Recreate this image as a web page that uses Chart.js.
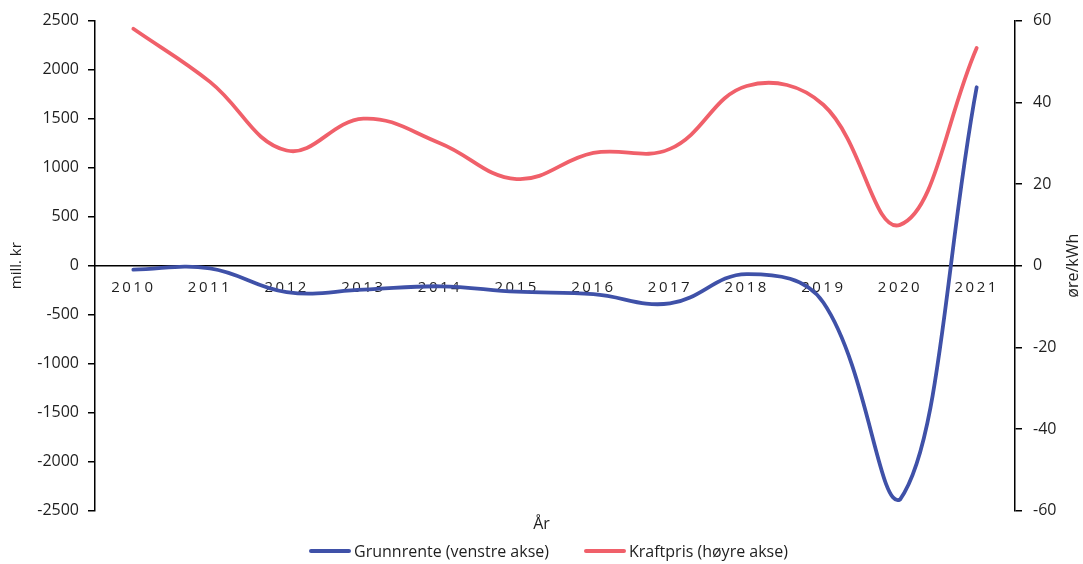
<!DOCTYPE html>
<html>
<head>
<meta charset="utf-8">
<script src="https://cdn.jsdelivr.net/npm/chart.js@4.4.1/dist/chart.umd.min.js"></script>
<style>
  html, body { margin: 0; padding: 0; background: #ffffff; }
  #wrap { width: 1083px; height: 564px; position: relative; }
  #legend {
    position: absolute; left: 14px; right: 0; top: 541px;
    display: flex; justify-content: center; align-items: center; gap: 35px;
    font-family: 'Open Sans', 'DejaVu Sans', sans-serif; font-size: 16px; color: #1e1e1e;
    line-height: 20px;
  }
  #legend .item { display: flex; align-items: center; }
  #legend .swatch { width: 42px; height: 3.5px; border-radius: 2px; margin-right: 3px; }
</style>
</head>
<body>
<div id="wrap"><canvas id="c"></canvas><div id="legend"></div></div>
<script>
// Years on the category axis
const years = ['2010', '2011', '2012', '2013', '2014', '2015', '2016', '2017', '2018', '2019', '2020', '2021'];
// Grunnrente, mill. kr (left axis)
const grunnrente = [-40, -27, -270, -245, -210, -265, -290, -385, -85, -375, -2385, 1820];
// Kraftpris, øre/kWh (right axis)
const kraftpris = [58.0, 45.0, 28.2, 36.0, 30.0, 21.2, 27.6, 28.6, 44.0, 39.4, 10.0, 53.3];
// Axis tick values
const leftTicks = [-2500, -2000, -1500, -1000, -500, 0, 500, 1000, 1500, 2000, 2500];
const rightTicks = [-60, -40, -20, 0, 20, 40, 60];

const BLUE = '#3F51A8';
const RED = '#F0606A';
const TEXT = '#1e1e1e';
const FONT = "'Open Sans', 'DejaVu Sans', sans-serif";

// Spaced-out year labels and the upward-reading right axis title
const extras = {
  id: 'extras',
  afterLayout(chart) {
    const xs = chart.scales.x;
    if (!xs._spaced) {
      const orig = xs.drawLabels;
      xs.drawLabels = function (area) {
        const ctx = this.ctx;
        ctx.save();
        ctx.letterSpacing = '2.5px';
        orig.call(this, area);
        ctx.restore();
      };
      xs._spaced = true;
    }
  },
  afterDraw(chart) {
    const ctx = chart.ctx;
    const a = chart.chartArea;
    ctx.save();
    ctx.fillStyle = TEXT;
    ctx.font = "16px " + FONT;
    ctx.textAlign = 'center';
    ctx.textBaseline = 'middle';
    ctx.translate(chart.width - 10, (a.top + a.bottom) / 2);
    ctx.rotate(-Math.PI / 2);
    ctx.fillText('øre/kWh', 0, 0);
    ctx.restore();
  }
};

const chart = new Chart(document.getElementById('c'), {
  type: 'line',
  data: {
    labels: years,
    datasets: [
      {
        label: 'Grunnrente (venstre akse)',
        data: grunnrente,
        yAxisID: 'y',
        borderColor: BLUE,
        backgroundColor: BLUE,
        borderWidth: 3.8,
        pointRadius: 0,
        tension: 0.4,
        borderCapStyle: 'round'
      },
      {
        label: 'Kraftpris (høyre akse)',
        data: kraftpris,
        yAxisID: 'y1',
        borderColor: RED,
        backgroundColor: RED,
        borderWidth: 3.8,
        pointRadius: 0,
        tension: 0.4,
        borderCapStyle: 'round'
      }
    ]
  },
  options: {
    responsive: true,
    maintainAspectRatio: false,
    animation: false,
    layout: { padding: { top: 14, right: 0, left: 0, bottom: 30 } },
    plugins: {
      tooltip: { enabled: false },
      legend: { display: false },
      title: {
        display: true,
        text: 'År',
        position: 'bottom',
        color: TEXT,
        font: { family: FONT, size: 16, weight: 'normal' },
        padding: { top: 4, bottom: 0 }
      }
    },
    scales: {
      x: {
        type: 'category',
        position: { y: 0 },
        offset: true,
        grid: { display: false, drawTicks: false },
        border: { display: true, color: '#000000', width: 1.5 },
        ticks: {
          color: TEXT,
          font: { family: FONT, size: 15 },
          padding: 13,
          maxRotation: 0,
          autoSkip: false
        }
      },
      y: {
        position: 'left',
        min: -2500,
        max: 2500,
        afterBuildTicks(s) { s.ticks = leftTicks.map(v => ({ value: v })); },
        afterFit(s) { s.width = 95; },
        grid: { drawOnChartArea: false, drawTicks: true, tickLength: 7, color: '#000000', lineWidth: 1.5 },
        border: { display: true, color: '#000000', width: 1.5 },
        ticks: { color: TEXT, font: { family: FONT, size: 16 }, padding: 9, callback: v => String(v) },
        title: {
          display: true,
          text: 'mill. kr',
          color: TEXT,
          font: { family: FONT, size: 15 },
          padding: { top: 8, bottom: 0 }
        }
      },
      y1: {
        position: 'right',
        min: -60,
        max: 60,
        afterBuildTicks(s) { s.ticks = rightTicks.map(v => ({ value: v })); },
        afterFit(s) { s.width = 68; },
        grid: { drawOnChartArea: false, drawTicks: true, tickLength: 7, color: '#000000', lineWidth: 1.5 },
        border: { display: true, color: '#000000', width: 1.5 },
        ticks: { color: TEXT, font: { family: FONT, size: 16 }, padding: 11, callback: v => String(v) }
      }
    }
  },
  plugins: [extras]
});

// Legend row below the plot, built from the chart's datasets
const legendEl = document.getElementById('legend');
chart.data.datasets.forEach(ds => {
  const item = document.createElement('div');
  item.className = 'item';
  const sw = document.createElement('span');
  sw.className = 'swatch';
  sw.style.background = ds.borderColor;
  const label = document.createElement('span');
  label.textContent = ds.label;
  item.appendChild(sw);
  item.appendChild(label);
  legendEl.appendChild(item);
});
</script>
</body>
</html>
